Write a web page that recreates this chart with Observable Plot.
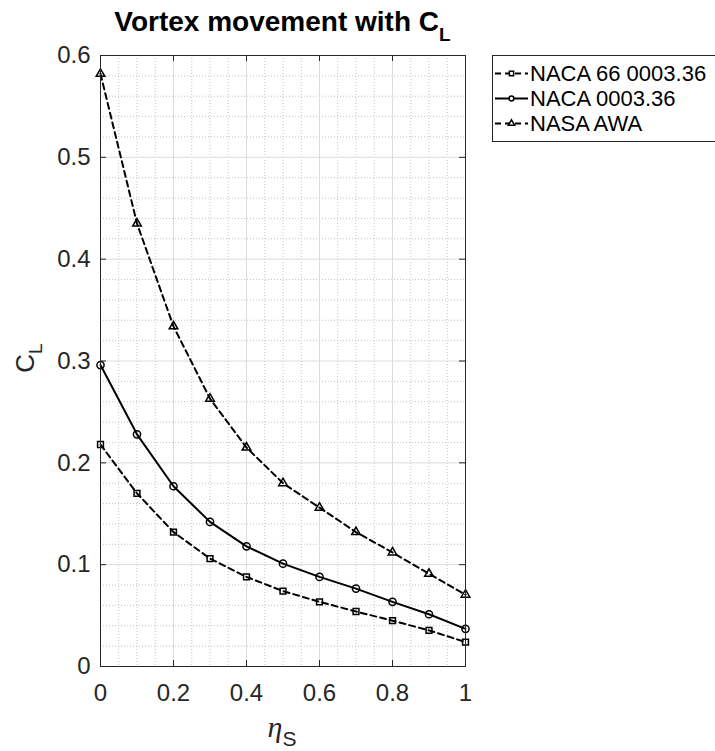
<!DOCTYPE html>
<html>
<head>
<meta charset="utf-8">
<script src="https://cdn.jsdelivr.net/npm/d3@7"></script>
<script src="https://cdn.jsdelivr.net/npm/@observablehq/plot@0.6"></script>
<style>
  body { margin: 0; background: #fff; }
  #wrap { position: relative; width: 715px; height: 751px; overflow: hidden;
          font-family: "Liberation Sans", Arial, Helvetica, sans-serif; color: #000; }
  #chart { position: absolute; left: 0; top: 0; }
  #title { position: absolute; left: 100px; width: 365px; top: 8px; line-height: 28px;
           text-align: center; font-weight: bold; font-size: 28px; white-space: nowrap; }
  #title .sub { font-size: 19px; position: relative; top: 10px; }
  #xlabel { position: absolute; left: 282px; top: 712px; transform: translateX(-50%);
            white-space: nowrap; color: #262626; line-height: 30px; }
  #xlabel .eta { font-family: "Liberation Serif", "DejaVu Serif", serif; font-style: italic; font-size: 30px; }
  #xlabel .sub { font-family: "Liberation Sans", Arial, sans-serif; font-size: 21px; position: relative; top: 9px; }
  #ylabel { position: absolute; left: 26px; top: 358px; transform: translate(-50%, -50%) rotate(-90deg);
            white-space: nowrap; color: #262626; font-size: 26px; line-height: 30px; }
  #ylabel .sub { font-size: 19px; position: relative; top: 8px; }
  #legend { position: absolute; left: 492px; top: 55px; width: 230px; border: 1px solid #262626;
            background: #fff; padding: 5px 0; box-sizing: content-box; }
  .row { height: 25px; line-height: 25px; display: flex; align-items: center; font-size: 22px; white-space: nowrap; }
  .row svg { margin-left: 2px; margin-right: 2px; flex: none; }
</style>
</head>
<body>
<div id="wrap">
  <div id="chart"></div>
  <div id="title">Vortex movement with C<span class="sub">L</span></div>
  <div id="xlabel"><span class="eta">η</span><span class="sub">S</span></div>
  <div id="ylabel">C<span class="sub">L</span></div>
  <div id="legend"></div>
</div>
<script>
// ---- data ----
const etaS = [0, 0.1, 0.2, 0.3, 0.4, 0.5, 0.6, 0.7, 0.8, 0.9, 1.0];
const seriesNames = ["NACA 66 0003.36", "NACA 0003.36", "NASA AWA"];
const naca66 = [0.218, 0.170, 0.132, 0.106, 0.088, 0.074, 0.0635, 0.054, 0.045, 0.0355, 0.024];
const naca00 = [0.296, 0.228, 0.177, 0.142, 0.118, 0.101, 0.088, 0.0765, 0.0635, 0.0513, 0.037];
const nasaAWA = [0.582, 0.435, 0.334, 0.263, 0.215, 0.180, 0.156, 0.132, 0.112, 0.091, 0.0705];
const xTicks = [0, 0.2, 0.4, 0.6, 0.8, 1];
const xTickLabels = ["0", "0.2", "0.4", "0.6", "0.8", "1"];
const yTicks = [0, 0.1, 0.2, 0.3, 0.4, 0.5, 0.6];
const yTickLabels = ["0", "0.1", "0.2", "0.3", "0.4", "0.5", "0.6"];
const xMinor = [0.05, 0.1, 0.15, 0.25, 0.3, 0.35, 0.45, 0.5, 0.55, 0.65, 0.7, 0.75, 0.85, 0.9, 0.95];
const yMinor = [0.02, 0.04, 0.06, 0.08, 0.12, 0.14, 0.16, 0.18, 0.22, 0.24, 0.26, 0.28,
                0.32, 0.34, 0.36, 0.38, 0.42, 0.44, 0.46, 0.48, 0.52, 0.54, 0.56, 0.58];

// ---- styles ----
const styles = {
  "NACA 66 0003.36": {symbol: "square", dash: "6,4", r: 3.3},
  "NACA 0003.36": {symbol: "circle", dash: null, r: 3.6},
  "NASA AWA": {symbol: "triangle", dash: "6,4", r: 3.2}
};
const seriesValues = [naca66, naca00, nasaAWA];
const table = [];
seriesNames.forEach((name, k) => etaS.forEach((x, i) => table.push({series: name, x, y: seriesValues[k][i]})));

const W = 715, H = 751, mT = 55, mB = 85, mL = 100, mR = 250;
const innerW = W - mL - mR, innerH = H - mT - mB, tick = 6;
const axisColor = "#262626";

const marks = [
  Plot.ruleX(xMinor, {x: d => d, stroke: "#c4c4c4", strokeDasharray: "1,2"}),
  Plot.ruleY(yMinor, {y: d => d, stroke: "#c4c4c4", strokeDasharray: "1,2"}),
  Plot.ruleX(xTicks, {x: d => d, stroke: "#dcdcdc"}),
  Plot.ruleY(yTicks, {y: d => d, stroke: "#dcdcdc"})
];
seriesNames.forEach(name => {
  const s = styles[name];
  const sub = table.filter(d => d.series === name);
  marks.push(Plot.line(sub, {x: "x", y: "y", stroke: "black", strokeWidth: 2,
    strokeDasharray: s.dash ?? undefined}));
  marks.push(Plot.dot(sub, {x: "x", y: "y", symbol: s.symbol, r: s.r, stroke: "black",
    fill: "none", strokeWidth: 1.5}));
});
marks.push(
  Plot.frame({stroke: axisColor, strokeWidth: 1}),
  Plot.tickX(xTicks, {x: d => d, stroke: axisColor, insetTop: innerH - tick}),
  Plot.tickX(xTicks, {x: d => d, stroke: axisColor, insetBottom: innerH - tick}),
  Plot.tickY(yTicks, {y: d => d, stroke: axisColor, insetRight: innerW - tick}),
  Plot.tickY(yTicks, {y: d => d, stroke: axisColor, insetLeft: innerW - tick}),
  Plot.axisX({ticks: xTicks, tickFormat: (d, i) => xTickLabels[i], tickSize: 0, tickPadding: 17,
    fontSize: 24, label: null, fill: axisColor}),
  Plot.axisY({ticks: yTicks, tickFormat: (d, i) => yTickLabels[i], tickSize: 0, tickPadding: 10,
    fontSize: 24, label: null, fill: axisColor})
);

const chart = Plot.plot({
  width: W, height: H,
  marginTop: mT, marginBottom: mB, marginLeft: mL, marginRight: mR,
  x: {domain: [0, 1]},
  y: {domain: [0, 0.6]},
  style: {fontFamily: "'Liberation Sans', Arial, sans-serif", background: "white", color: axisColor},
  marks
});
document.getElementById("chart").appendChild(chart);

// ---- legend ----
const legend = d3.select("#legend");
seriesNames.forEach(name => {
  const s = styles[name];
  const row = legend.append("div").attr("class", "row");
  const svg = row.append("svg").attr("width", 33).attr("height", 25);
  svg.append("line").attr("x1", 0).attr("x2", 33).attr("y1", 12.5).attr("y2", 12.5)
    .attr("stroke", "black").attr("stroke-width", 2)
    .attr("stroke-dasharray", s.dash ? "6,4" : null);
  const sym = {square: d3.symbolSquare, circle: d3.symbolCircle, triangle: d3.symbolTriangle}[s.symbol];
  svg.append("path").attr("transform", "translate(16.5,12.5)")
    .attr("d", d3.symbol(sym, Math.PI * 2.4 * 2.4)())
    .attr("fill", "white").attr("stroke", "black").attr("stroke-width", 1.5);
  row.append("span").text(name);
});
</script>
</body>
</html>
